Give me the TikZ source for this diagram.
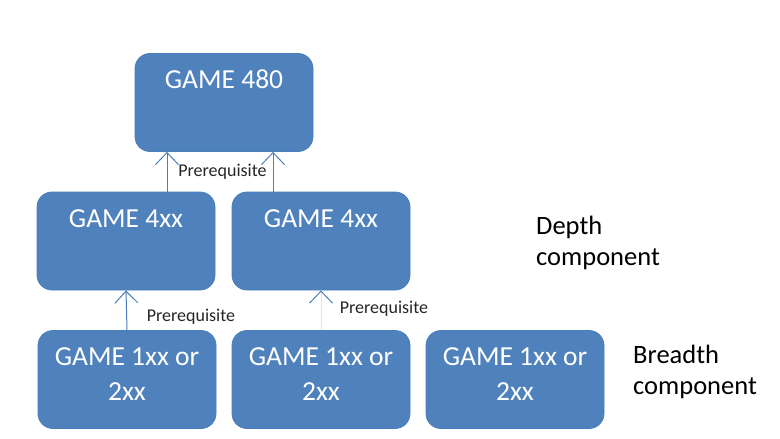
\documentclass[tikz,border=0pt]{standalone}
\usepackage{fontspec}
\setmainfont{Carlito}
\usetikzlibrary{arrows.meta}
\usetikzlibrary{positioning}
\definecolor{boxblue}{HTML}{4F81BD}
\definecolor{edgeblue}{HTML}{4A7EBB}
\definecolor{faintblue}{HTML}{DCE6F2}

\begin{document}
\begin{tikzpicture}[x=1pt, y=-1pt,
	course/.style={draw=edgeblue, fill=boxblue, rounded corners=15pt, minimum width=178pt, minimum height=98pt, line width=0.8pt},
	coursetext/.style={text=white, font=\fontsize{27.5}{35}\selectfont, align=center, anchor=base, inner sep=0pt},
	prq/.style={draw=edgeblue, line width=1pt, -{Straight Barb[length=12pt, width=23pt]}},
	prqtext/.style={font=\fontsize{18}{22}\selectfont, text=black!85, inner sep=0pt, anchor=base},
	component/.style={font=\fontsize{26.5}{31}\selectfont, align=left, anchor=base west, inner sep=0pt}]

	\useasboundingbox (0,0) rectangle (780,439);

	% boxes
	\node[course] (g480) at (224,102.5) {};
	\node[course] (g4a) at (126,241) {};
	\node[course] (g4b) at (321,241) {};
	\node[course] (g1a) at (127,379.5) {};
	\node[course] (g1b) at (321,379.5) {};
	\node[course] (g1c) at (515,379.5) {};

	% box texts (base = last line)
	\node[coursetext] (t480) at ([yshift=-35pt]g480.north) {GAME 480};
	\node[coursetext] (t4a) at ([yshift=-36pt]g4a.north) {GAME 4xx};
	\node[coursetext] (t4b) at ([yshift=-36pt]g4b.north) {GAME 4xx};
	\foreach \b in {g1a, g1b, g1c}
		\node[coursetext] (t\b) at ([yshift=-70pt]\b.north) {GAME 1xx or\\2xx};

	% prerequisites
	\draw[prq] ([xshift=41pt]g4a.north) -- ([xshift=41pt]g4a.north |- g480.south);
	\draw[prq] ([xshift=-48pt]g4b.north) -- ([xshift=-48pt]g4b.north |- g480.south);
	\draw[prq] (g1a.north) -- (g4a.south);
	\draw[draw=faintblue, line width=1pt, -{Straight Barb[length=12pt, width=23pt, color=edgeblue]}] (g1b.north) -- (g4b.south);

	\node[prqtext] (p1) at (222.5,176.7) {Prerequisite};
	\node[prqtext] (p2) at (191,321) {Prerequisite};
	\node[prqtext] (p3) at (384,313) {Prerequisite};

	% components
	\node[component] (depth) at (536,265) {Depth\\component};
	\node[component] (breadth) at (633,394) {Breadth\\component};

\end{tikzpicture}
\end{document}
